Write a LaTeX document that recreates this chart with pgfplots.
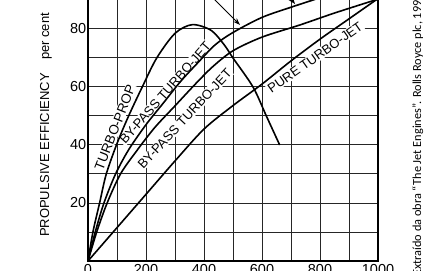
\documentclass[border=0pt]{standalone}
\usepackage{fontspec}
\setmainfont{Liberation Sans}
\newfontfamily\carlito{Carlito}
\usepackage{pgfplots}
\pgfplotsset{compat=1.18}
\usetikzlibrary{arrows.meta}
\begin{document}
\begin{tikzpicture}
\useasboundingbox (0,0) rectangle (430pt,270pt);
\clip (0,0) rectangle (430pt,270pt);
\begin{axis}[
  anchor=origin, at={(88pt,9pt)},
  x=0.29pt, y=2.9pt,
  xmin=0, xmax=1000, ymin=0, ymax=100,
  xtick={0,200,...,1000}, minor xtick={100,300,...,900},
  ytick={20,40,...,100}, minor ytick={10,30,...,90},
  grid=both,
  major grid style={line width=1pt, black!85},
  minor grid style={line width=1pt, black!85},
  major tick length=0pt, minor tick length=0pt,
  axis line style={line width=1.4pt, black},
  tick label style={font=\fontsize{14.5}{16}\selectfont},
  /pgf/number format/assume math mode=true,
  /pgf/number format/1000 sep={},
  yticklabel style={inner sep=1.5pt},
  ylabel={PROPULSIVE EFFICIENCY\quad per cent},
  ylabel style={font=\fontsize{13}{15}\selectfont, at={(axis description cs:-0.145,0.469)}, anchor=center},
  clip=false,
]
\node[rotate=68.5, fill=white, inner sep=1pt, font=\fontsize{13.5}{15}\selectfont] at (axis cs:93,46) {TURBO-PROP};
\node[rotate=48.7, fill=white, inner sep=1pt, font=\fontsize{13}{15}\selectfont] at (axis cs:266,58) {BY-PASS TURBO-JET};
\node[rotate=47, fill=white, inner sep=1pt, font=\fontsize{13}{15}\selectfont] at (axis cs:333,49) {BY-PASS TURBO-JET};
\node[rotate=35.3, fill=white, inner sep=1pt, font=\fontsize{13}{15}\selectfont] at (axis cs:783,70.2) {PURE TURBO-JET};
% turbo-prop
\addplot[black, line width=1.6pt, smooth] coordinates {
(0,0) (17,10) (40,20) (63,30) (100,40.5) (140,50) (187,60) (237,70) (300,78.5) (360,81.5) (425,79.5) (470,74.5) (500,70) (569,60) (615,50) (661,40)};
% by-pass (upper)
\addplot[black, line width=1.6pt, smooth] coordinates {
(0,0) (25,10) (55,20) (95,30) (141,38.5) (200,47) (260,54.5) (320,62) (380,68.5) (438,74.5) (500,78.8) (600,84) (700,87.5) (776,90) (850,92.5)};
% by-pass (lower)
\addplot[black, line width=1.6pt, smooth] coordinates {
(0,0) (30,10) (66,20) (112,30) (168,38) (230,46) (300,53.5) (370,61) (430,67) (500,72.5) (600,77.2) (731,81.4) (850,85.5) (1000,90.3)};
% pure turbo-jet
\addplot[black, line width=1.6pt, smooth] coordinates {
(0,0) (100,11.5) (200,23) (300,34.5) (400,45.5) (500,53.6) (600,61) (700,69) (800,76.5) (900,83.5) (1000,90.5)};
\draw[-{Stealth[length=7pt,width=5pt]}, line width=1pt] (axis cs:386,95.2) -- (axis cs:524,81.4);
\draw[-{Stealth[length=7pt,width=5pt]}, line width=1pt] (axis cs:662,95.2) -- (axis cs:714,88.6);
\end{axis}
\node[rotate=90, anchor=base west, inner sep=0pt, font=\carlito\fontsize{12.3}{14}\selectfont] at (421pt,-6pt) {Extraído da obra “The Jet Engines”. Rolls Royce plc, 1996};
\end{tikzpicture}
\end{document}
